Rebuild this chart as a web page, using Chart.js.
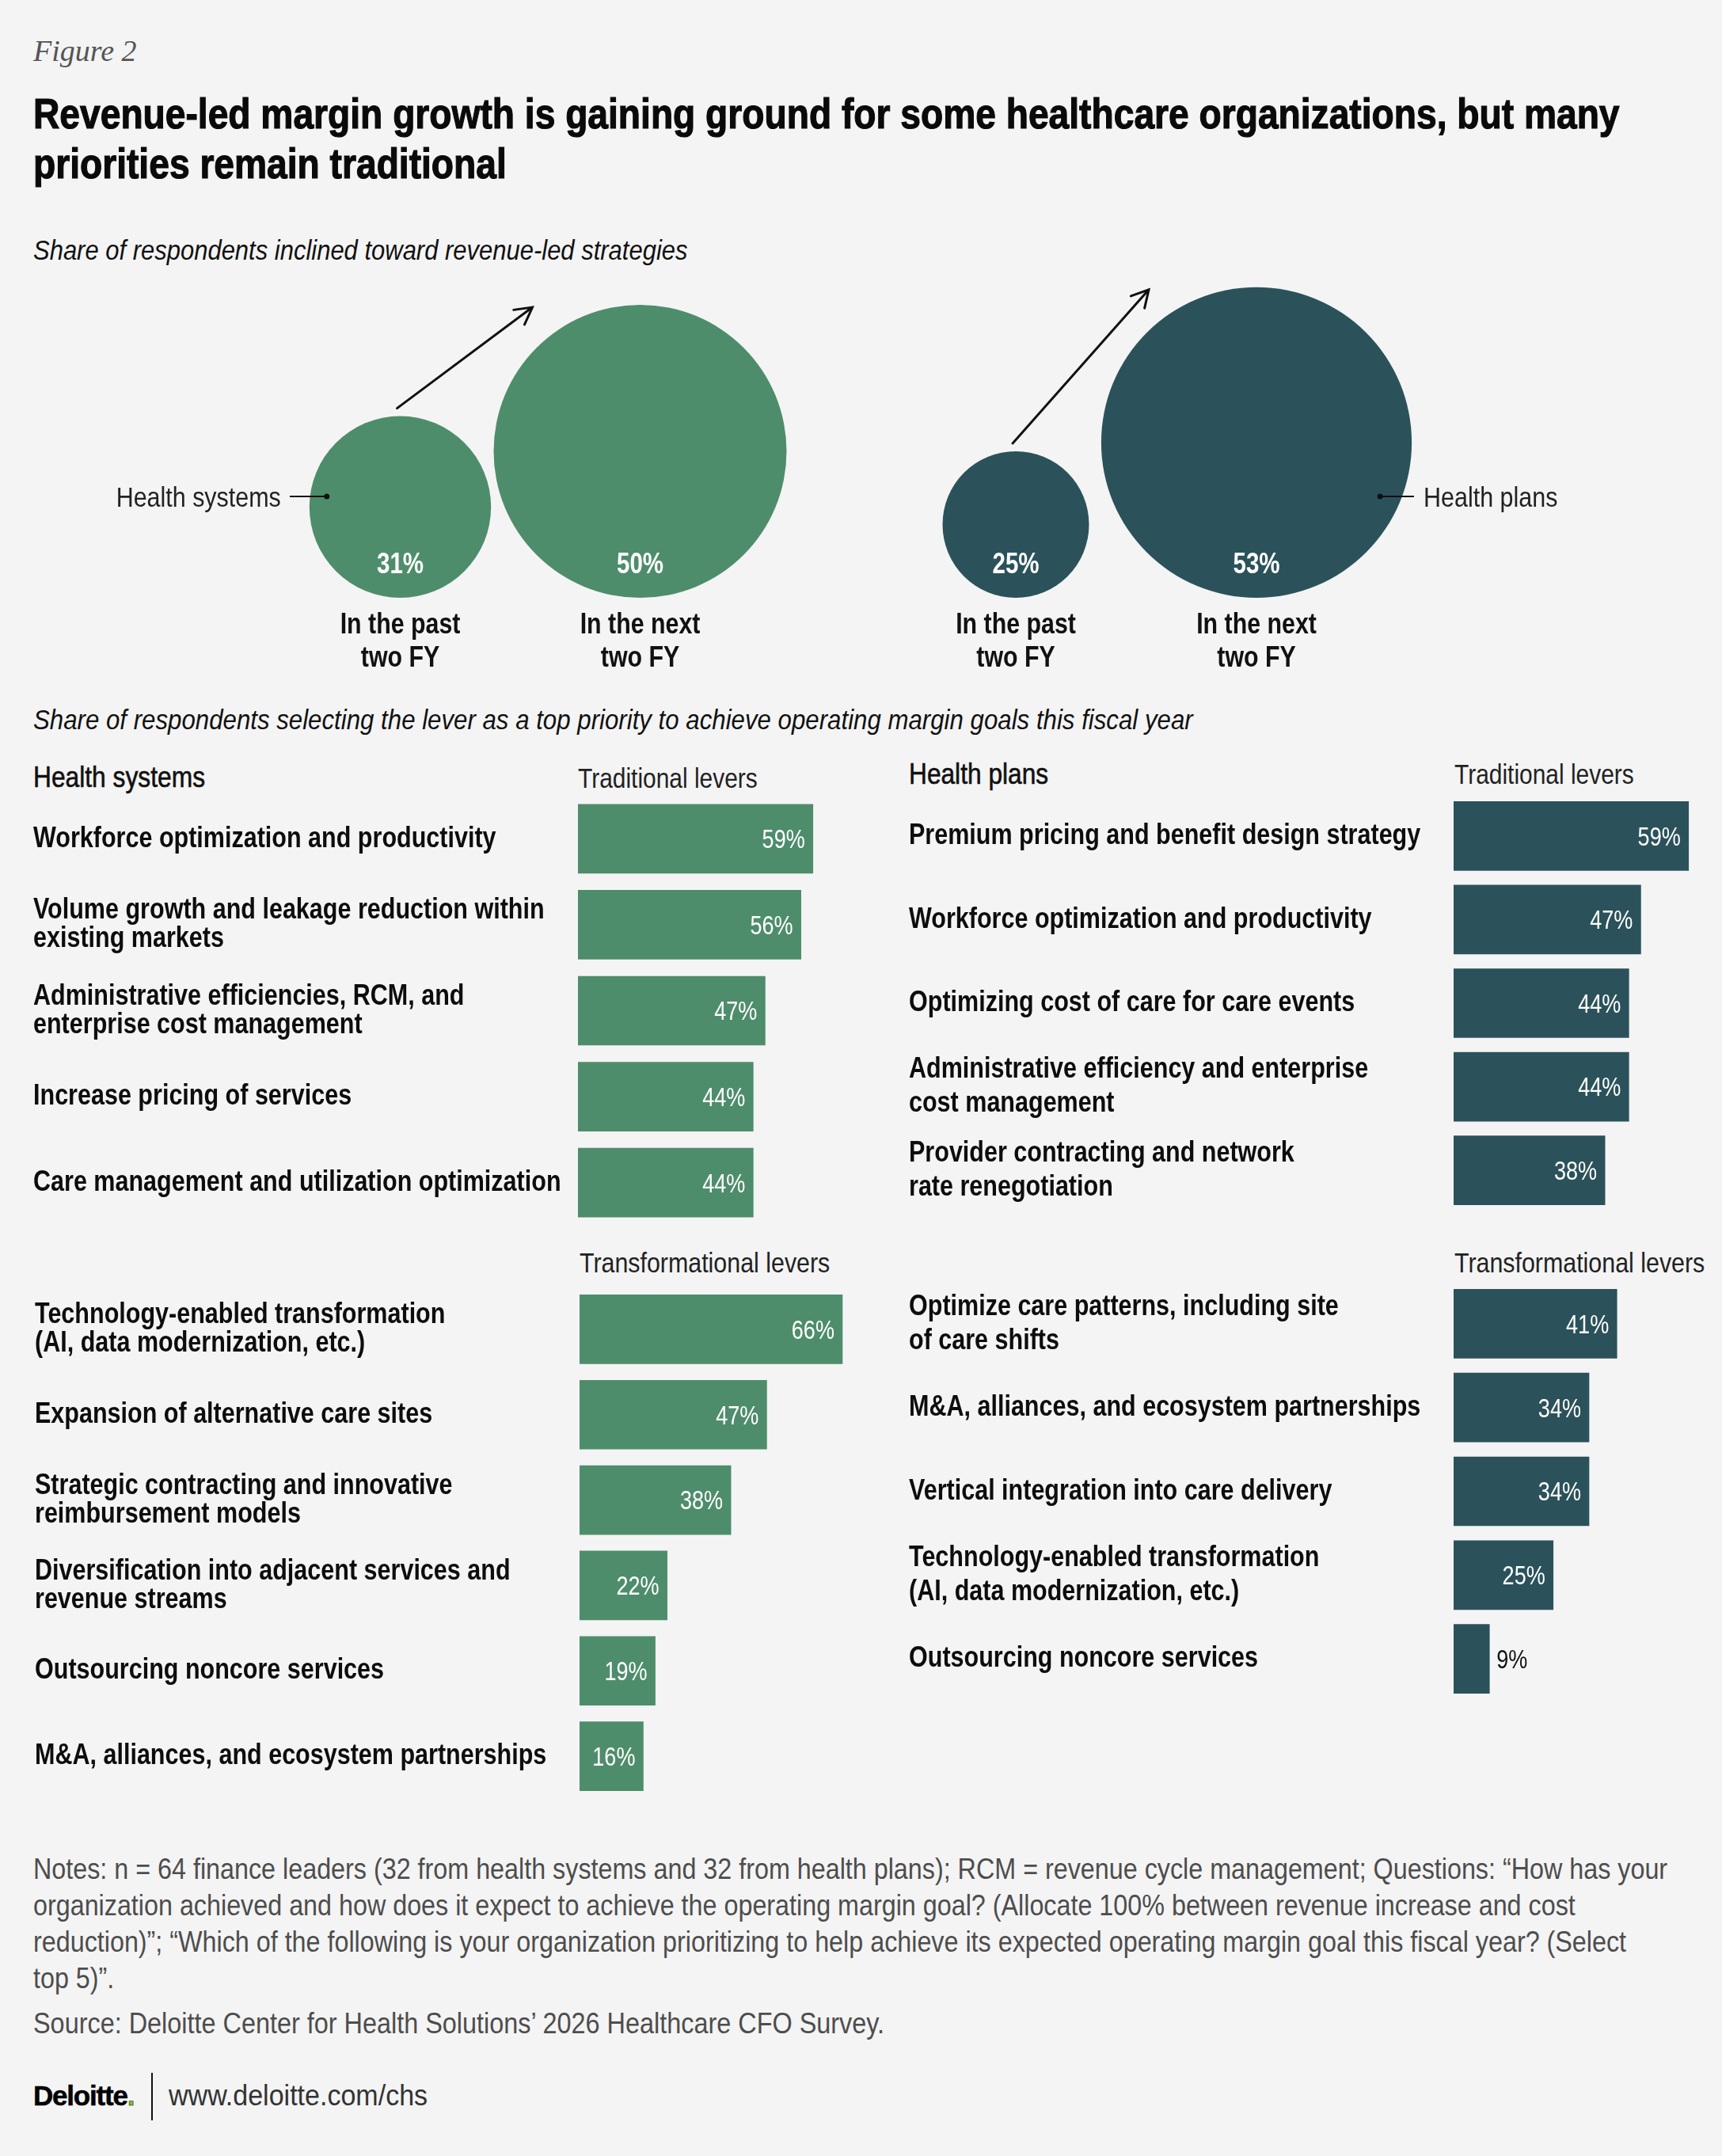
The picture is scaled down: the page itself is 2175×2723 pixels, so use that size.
<!DOCTYPE html>
<html>
<head>
<meta charset="utf-8">
<script src="https://cdn.jsdelivr.net/npm/chart.js@4.4.1/dist/chart.umd.min.js"></script>
<style>
html, body { margin: 0; padding: 0; background: #f4f4f4; }
#page { position: relative; width: 2175px; height: 2723px; background: #f4f4f4; overflow: hidden;
        font-family: "Liberation Sans", Arial, sans-serif; color: #111; }
.t { position: absolute; white-space: nowrap; transform-origin: 0 0; transform: scaleX(0.87); }
canvas { position: absolute; }
</style>
</head>
<body>
<div id="page">
  <div class="t" style="left:42px;top:45px;font:italic 38px/38px 'Liberation Serif';color:#555;transform:none">Figure 2</div>
  <div class="t" style="left:42px;top:112px;font:bold 54px/63px 'Liberation Sans';color:#0a0a0a;-webkit-text-stroke:1.2px #0a0a0a;transform:scaleX(0.855)">Revenue-led margin growth is gaining ground for some healthcare organizations, but many<br>priorities remain traditional</div>
  <div class="t" style="left:42px;top:298px;font:italic 35px/35px 'Liberation Sans';color:#111;transform:scaleX(0.885)">Share of respondents inclined toward revenue-led strategies</div>

  <canvas id="bubHS" width="1100" height="540" style="left:0;top:330px"></canvas>
  <canvas id="bubHP" width="1075" height="540" style="left:1100px;top:330px"></canvas>

  <div class="t" style="left:42px;top:891px;font:italic 35px/35px 'Liberation Sans';color:#111;transform:scaleX(0.892)">Share of respondents selecting the lever as a top priority to achieve operating margin goals this fiscal year</div>

  <div class="t" style="left:42px;top:964px;font:36px/36px 'Liberation Sans';color:#111;-webkit-text-stroke:0.6px #111;transform:scaleX(0.882)">Health systems</div>
  <div class="t" style="left:730px;top:965px;font:35px/36px 'Liberation Sans';color:#222;transform:scaleX(0.855)">Traditional levers</div>
  <div class="t" style="left:732px;top:1577px;font:35px/36px 'Liberation Sans';color:#222;transform:scaleX(0.868)">Transformational levers</div>

  <div class="t" style="left:1148px;top:960px;font:36px/36px 'Liberation Sans';color:#111;-webkit-text-stroke:0.6px #111;transform:scaleX(0.88)">Health plans</div>
  <div class="t" style="left:1837px;top:960px;font:35px/36px 'Liberation Sans';color:#222;transform:scaleX(0.855)">Traditional levers</div>
  <div class="t" style="left:1837px;top:1577px;font:35px/36px 'Liberation Sans';color:#222;transform:scaleX(0.868)">Transformational levers</div>

  <canvas id="hsTrad" width="1090" height="543" style="left:42px;top:1005px"></canvas>
  <canvas id="hsTrans" width="1090" height="647" style="left:44px;top:1625px"></canvas>
  <canvas id="hpTrad" width="1027" height="528" style="left:1148px;top:1003px"></canvas>
  <canvas id="hpTrans" width="1027" height="529" style="left:1148px;top:1619px"></canvas>

  <div class="t" style="left:42px;top:2338px;font:36px/46px 'Liberation Sans';color:#4d4d4d;transform:scaleX(0.897)">Notes: n = 64 finance leaders (32 from health systems and 32 from health plans); RCM = revenue cycle management; Questions: “How has your<br>organization achieved and how does it expect to achieve the operating margin goal? (Allocate 100% between revenue increase and cost<br>reduction)”; “Which of the following is your organization prioritizing to help achieve its expected operating margin goal this fiscal year? (Select<br>top 5)”.</div>
  <div class="t" style="left:42px;top:2533px;font:36px/46px 'Liberation Sans';color:#4d4d4d;transform:scaleX(0.9)">Source: Deloitte Center for Health Solutions’ 2026 Healthcare CFO Survey.</div>

  <div class="t" style="left:42px;top:2629px;font:bold 35px/35px 'Liberation Sans';color:#000;letter-spacing:-1.2px;-webkit-text-stroke:0.5px #000;transform:none">Deloitte<span style="color:#86bc25">.</span></div>
  <div style="position:absolute;left:191px;top:2618px;width:2px;height:60px;background:#111"></div>
  <div class="t" style="left:213px;top:2629px;font:36px/36px 'Liberation Sans';color:#333;transform:scaleX(0.945)">www.deloitte.com/chs</div>
</div>

<script>
// top: share inclined toward revenue-led strategies
var periods = [["In the past", "two FY"], ["In the next", "two FY"]];
var hsShare = [31, 50];
var hpShare = [25, 53];

// levers
var hsTradLabels = [
  "Workforce optimization and productivity",
  ["Volume growth and leakage reduction within", "existing markets"],
  ["Administrative efficiencies, RCM, and", "enterprise cost management"],
  "Increase pricing of services",
  "Care management and utilization optimization"
];
var hsTradValues = [59, 56, 47, 44, 44];

var hsTransLabels = [
  ["Technology-enabled transformation", "(AI, data modernization, etc.)"],
  "Expansion of alternative care sites",
  ["Strategic contracting and innovative", "reimbursement models"],
  ["Diversification into adjacent services and", "revenue streams"],
  "Outsourcing noncore services",
  "M&A, alliances, and ecosystem partnerships"
];
var hsTransValues = [66, 47, 38, 22, 19, 16];

var hpTradLabels = [
  "Premium pricing and benefit design strategy",
  "Workforce optimization and productivity",
  "Optimizing cost of care for care events",
  ["Administrative efficiency and enterprise", "cost management"],
  ["Provider contracting and network", "rate renegotiation"]
];
var hpTradValues = [59, 47, 44, 44, 38];

var hpTransLabels = [
  ["Optimize care patterns, including site", "of care shifts"],
  "M&A, alliances, and ecosystem partnerships",
  "Vertical integration into care delivery",
  ["Technology-enabled transformation", "(AI, data modernization, etc.)"],
  "Outsourcing noncore services"
];
var hpTransValues = [41, 34, 34, 25, 9];

var GREEN = "#4e8d6b";
var TEAL = "#2b525b";
var AXIS_W = 688;
var PX_PER_PCT = 5.03;
var BAR_H = 87;
var R_PER_PCT = 3.7;
var SANS = "'Liberation Sans', Arial, sans-serif";

// condensed text: Liberation Sans squeezed horizontally
function condText(ctx, txt, x, yCenter, align, weight, size, color, sx) {
  ctx.save();
  ctx.font = weight + " " + size + "px " + SANS;
  ctx.fillStyle = color;
  ctx.textAlign = align;
  ctx.textBaseline = "alphabetic";
  ctx.translate(x, yCenter + size * 0.358);
  ctx.scale(sx || 0.82, 1);
  ctx.fillText(txt, 0, 0);
  ctx.restore();
}

var barText = {
  id: "barText",
  afterDatasetsDraw: function(chart, args, opts) {
    var ctx = chart.ctx;
    var ys = chart.scales.y;
    var meta = chart.getDatasetMeta(0);
    var vals = chart.data.datasets[0].data;
    chart.data.labels.forEach(function(lab, i) {
      var lines = Array.isArray(lab) ? lab : [lab];
      var yc = ys.getPixelForTick(i) - 3;
      var y0 = yc - (lines.length - 1) * opts.lineH / 2;
      lines.forEach(function(line, j) {
        condText(ctx, line, ys.left, y0 + j * opts.lineH, "left", "bold", 37, "#0d0d0d", 0.825);
      });
    });
    meta.data.forEach(function(bar, i) {
      var txt = vals[i] + "%";
      if (bar.x - bar.base > 70) {
        condText(ctx, txt, bar.x - 10, bar.y, "right", "normal", 33, "#ffffff");
      } else {
        condText(ctx, txt, bar.x + 9, bar.y, "left", "normal", 33, "#111");
      }
    });
  }
};

function makeBars(id, labels, values, color, lineH) {
  var canvas = document.getElementById(id);
  var xMax = (canvas.width - AXIS_W) / PX_PER_PCT;
  new Chart(canvas, {
    type: "bar",
    data: {
      labels: labels,
      datasets: [{ data: values, backgroundColor: color, barThickness: BAR_H, borderWidth: 0 }]
    },
    options: {
      indexAxis: "y",
      responsive: false,
      animation: false,
      events: [],
      layout: { padding: 0, autoPadding: false },
      scales: {
        x: { display: false, min: 0, max: xMax },
        y: {
          afterFit: function(s) { s.width = AXIS_W; },
          grid: { display: false, drawTicks: false },
          border: { display: false },
          ticks: { display: false }
        }
      },
      plugins: { legend: { display: false }, tooltip: { enabled: false }, barText: { lineH: lineH } }
    },
    plugins: [barText]
  });
}

makeBars("hsTrad", hsTradLabels, hsTradValues, GREEN, 36);
makeBars("hsTrans", hsTransLabels, hsTransValues, GREEN, 36);
makeBars("hpTrad", hpTradLabels, hpTradValues, TEAL, 43);
makeBars("hpTrans", hpTransLabels, hpTransValues, TEAL, 43);

var bubbleDecor = {
  id: "bubbleDecor",
  afterDatasetsDraw: function(chart, args, opts) {
    var ctx = chart.ctx;
    var els = chart.getDatasetMeta(0).data;
    var vals = chart.data.datasets[0].values;
    var bottom = chart.chartArea.bottom;
    var past = els[0], next = els[1];
    var rp = past.options.radius, rn = next.options.radius;
    // values inside the circles and period labels below
    els.forEach(function(el, i) {
      condText(ctx, vals[i] + "%", el.x, bottom - 44, "center", "bold", 36, "#ffffff");
      condText(ctx, periods[i][0], el.x, bottom + 32, "center", "bold", 37, "#111");
      condText(ctx, periods[i][1], el.x, bottom + 74, "center", "bold", 37, "#111");
    });
    ctx.save();
    // arrow
    var x1 = past.x - 4, y1 = past.y - rp - 10;
    var x2 = next.x - 136, y2 = next.y - rn + 3;
    ctx.strokeStyle = "#111";
    ctx.fillStyle = "#111";
    ctx.lineWidth = 3;
    ctx.lineCap = "round";
    ctx.beginPath();
    ctx.moveTo(x1, y1);
    ctx.lineTo(x2, y2);
    var a = Math.atan2(y2 - y1, x2 - x1);
    ctx.moveTo(x2 - 24 * Math.cos(a - 0.5), y2 - 24 * Math.sin(a - 0.5));
    ctx.lineTo(x2, y2);
    ctx.lineTo(x2 - 24 * Math.cos(a + 0.5), y2 - 24 * Math.sin(a + 0.5));
    ctx.stroke();
    // callout
    var cy = bottom - 128;
    var dx, lx;
    if (opts.side === "left") {
      dx = past.x - rp + 22;
      lx = dx - 46;
      condText(ctx, opts.text, lx - 12, cy, "right", "normal", 35, "#222", 0.87);
    } else {
      dx = next.x + rn - 40;
      lx = dx + 42;
      condText(ctx, opts.text, lx + 13, cy, "left", "normal", 35, "#222", 0.87);
    }
    ctx.lineWidth = 2;
    ctx.beginPath();
    ctx.moveTo(dx, cy);
    ctx.lineTo(lx, cy);
    ctx.stroke();
    ctx.beginPath();
    ctx.arc(dx, cy, 3.5, 0, Math.PI * 2);
    ctx.fill();
    ctx.restore();
  }
};

function makeBubbles(id, shares, color, pad, callout) {
  var canvas = document.getElementById(id);
  var areaH = canvas.height - pad.top - pad.bottom;
  var cats = periods.map(function(p) { return p.join(" "); });
  new Chart(canvas, {
    type: "bubble",
    data: {
      labels: cats,
      datasets: [{
        values: shares,
        data: shares.map(function(v, i) { return { x: cats[i], y: v * R_PER_PCT, r: v * R_PER_PCT }; }),
        backgroundColor: color,
        borderWidth: 0,
        hoverRadius: 0,
        clip: false
      }]
    },
    options: {
      responsive: false,
      animation: false,
      events: [],
      layout: { padding: pad, autoPadding: false },
      scales: {
        x: { type: "category", offset: true, display: false },
        y: { display: false, min: 0, max: areaH }
      },
      plugins: { legend: { display: false }, tooltip: { enabled: false }, bubbleDecor: callout }
    },
    plugins: [bubbleDecor]
  });
}

makeBubbles("bubHS", hsShare, GREEN, { left: 354, right: 140, top: 0, bottom: 115 }, { side: "left", text: "Health systems" });
makeBubbles("bubHP", hpShare, TEAL, { left: 31, right: 436, top: 0, bottom: 115 }, { side: "right", text: "Health plans" });
</script>
</body>
</html>
